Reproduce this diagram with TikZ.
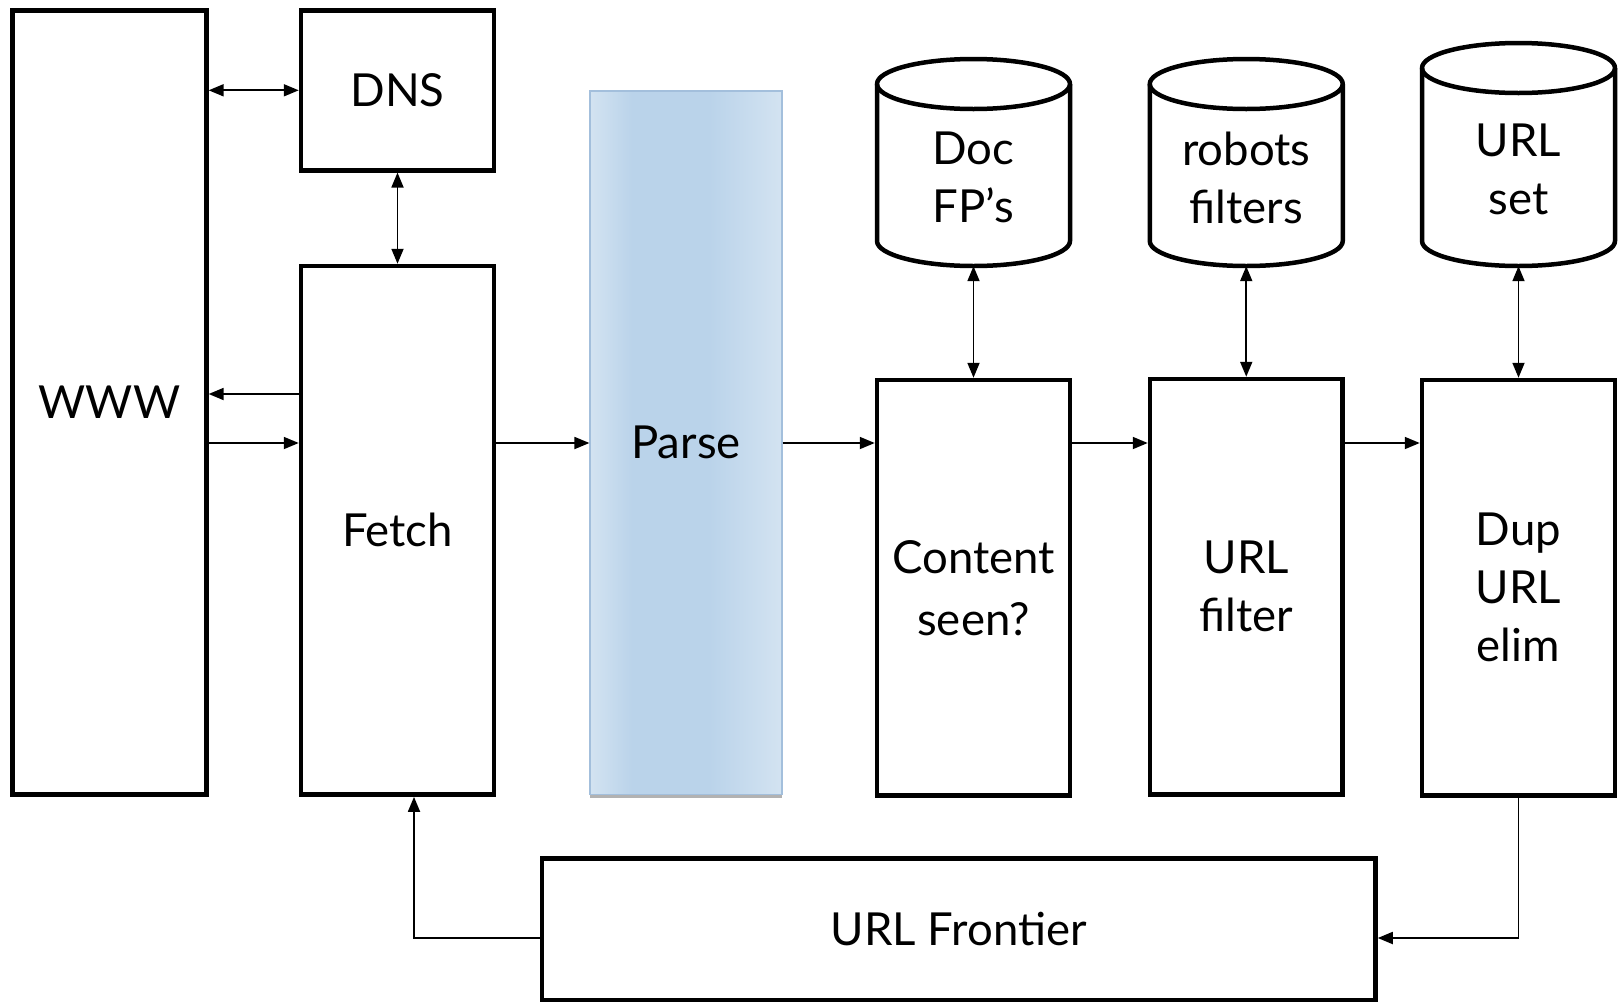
\documentclass[tikz,border=0pt]{standalone}
\usepackage{fontspec}
\setmainfont{Lato}
\usetikzlibrary{arrows.meta,shadows}

\definecolor{parseside}{HTML}{D3E3F1}
\definecolor{parsemid}{HTML}{BAD3EA}
\definecolor{parseedge}{HTML}{A3BFDC}

% soft left-to-right gradient of the parser block
% (the node spans the middle half of the shading, 25bp to 75bp)
\pgfdeclarehorizontalshading{parseshade}{100bp}{%
  color(0bp)=(parseside); color(25bp)=(parseside);
  color(36bp)=(parsemid); color(56bp)=(parsemid);
  color(75bp)=(parseside); color(100bp)=(parseside)}

\newcommand\biglabel{\fontsize{45.5}{58}\selectfont}

\tikzset{
  block/.style={draw, line width=4.5pt, rectangle, inner sep=0pt,
    align=center, font=\biglabel},
  parsebox/.style={rectangle, inner sep=0pt, align=center, font=\biglabel,
    draw=parseedge, line width=1.2pt, shading=parseshade,
    drop shadow={shadow xshift=0pt, shadow yshift=-3pt, fill=black, opacity=0.3}},
  store/.style={rectangle, inner sep=0pt, minimum width=193pt,
    align=center, font=\biglabel},
  cylline/.style={line width=4.5pt, line join=round},
  flow/.style={line width=1.8pt, -{Triangle[length=15pt,width=12pt]}},
  biflow/.style={line width=1.8pt,
    {Triangle[length=15pt,width=12pt]}-{Triangle[length=15pt,width=12pt]}},
}

% database cylinder: centre x, top ellipse centre y, bottom ellipse centre y
\newcommand\dbcyl[3]{%
  \draw[cylline] (#1-96.5,#2) -- (#1-96.5,#3)
    arc[start angle=180, end angle=0, x radius=96.5, y radius=25]
    -- (#1+96.5,#2);
  \draw[cylline] (#1,#2) ellipse[x radius=96.5, y radius=25];
}

\begin{document}
\begin{tikzpicture}[x=1pt, y=-1pt]
\useasboundingbox (0,0) rectangle (1618,1002);

% levels of the horizontal connectors
\coordinate (backY) at (0,394);
\coordinate (flowY) at (0,443);
\coordinate (loopY) at (0,938);
\coordinate (retX)  at (414,0);

% processing blocks
\node[block, minimum width=194pt, minimum height=784pt] (www) at (109.4,402.5) {WWW};
\node[block, minimum width=193pt, minimum height=160pt, text depth=0pt] (dns) at (397.5,90.3) {DNS};
\node[block, minimum width=193pt, minimum height=528.6pt] (fetch) at (397.5,530.3) {Fetch};
\node[parsebox, minimum width=192pt, minimum height=703.6pt] (parse) at (686,442.8) {Parse};
\node[block, minimum width=193pt, minimum height=415.6pt] (content) at (973.5,587.8) {Content\\[4pt]seen?};
\node[block, minimum width=192.5pt, minimum height=415.6pt] (filter) at (1246.25,586.8) {URL\\filter};
\node[block, minimum width=193pt, minimum height=415.6pt] (dup) at (1518.5,587.8) {Dup\\URL\\elim};
\node[block, minimum width=833.5pt, minimum height=141.5pt] (frontier) at (958.75,929.25) {URL Frontier};

% data stores
\dbcyl{973.5}{84}{241}
\dbcyl{1246.25}{84}{241}
\dbcyl{1518.5}{68}{241}
\node[store, minimum height=177pt] (docfp) at (973.5,177.5) {Doc\\FP’s};
\node[store, minimum height=177pt] (robots) at (1246.25,177.5) {robots\\filters};
\node[store, minimum height=194pt] (urlset) at (1518.5,169) {URL\\set};

% connectors
\draw[biflow] (www.east |- dns.west) -- (dns.west);
\draw[biflow] (dns.south) -- (fetch.north);
\draw[flow] (fetch.west |- backY) -- (www.east |- backY);
\draw[flow] (www.east |- flowY) -- (fetch.west |- flowY);
\draw[flow] (fetch.east |- flowY) -- (parse.west |- flowY);
\draw[flow] (parse.east |- flowY) -- (content.west |- flowY);
\draw[flow] (content.east |- flowY) -- (filter.west |- flowY);
\draw[flow] (filter.east |- flowY) -- (dup.west |- flowY);
\draw[biflow] (docfp.south) -- (content.north);
\draw[biflow] (robots.south) -- (filter.north);
\draw[biflow] (urlset.south) -- (dup.north);
\draw[flow] (dup.south) -- (dup.south |- loopY) -- (frontier.east |- loopY);
\draw[flow] (frontier.west |- loopY) -- (retX |- loopY) -- (retX |- fetch.south);
\end{tikzpicture}
\end{document}
